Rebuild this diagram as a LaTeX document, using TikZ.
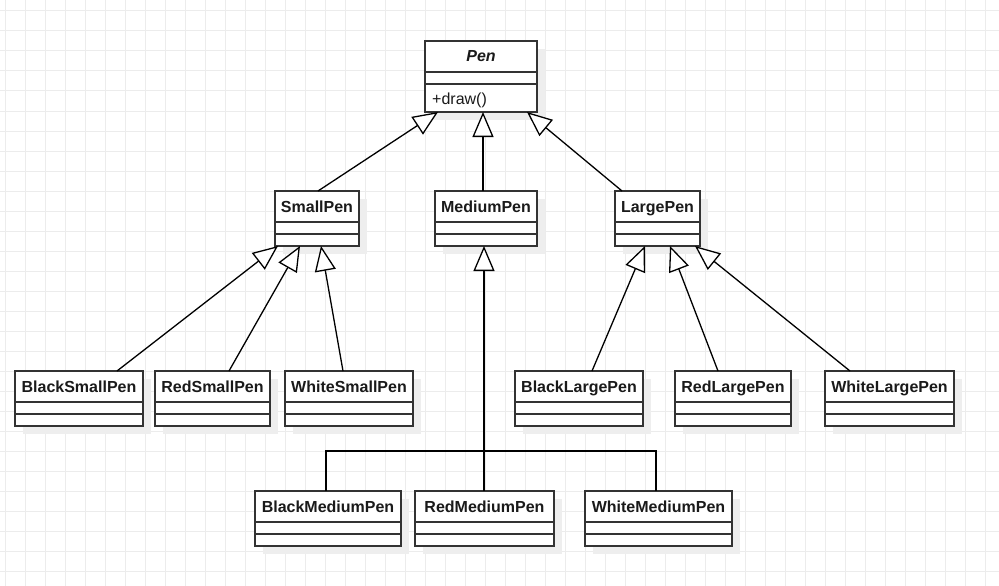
\documentclass[tikz,border=0pt]{standalone}
\usepackage{fontspec}
\setmainfont{Liberation Sans}
\usetikzlibrary{calc,arrows.meta}

\definecolor{gridline}{RGB}{236,236,236}
\definecolor{boxshadow}{RGB}{238,238,238}
\definecolor{boxedge}{RGB}{51,51,51}
\definecolor{inktext}{RGB}{26,26,26}

\tikzset{
  umlbox/.style={rectangle, draw=boxedge, line width=1.5pt, fill=white, inner sep=0pt, outer sep=0pt},
  sepline/.style={draw=boxedge, line width=1.5pt},
  classname/.style={font=\fontsize{16}{19}\selectfont\bfseries, text=inktext, inner sep=0pt, anchor=base},
  member/.style={font=\fontsize{16}{19}\selectfont, text=inktext, inner sep=0pt, anchor=base west},
  inherit/.style={draw=black, line width=1.3pt, -{Triangle[length=25pt,width=21pt,fill=white]}},
  link/.style={draw=black, line width=1.3pt},
  trunk/.style={draw=black, line width=2pt, -{Triangle[length=25pt,width=21pt,fill=white,line width=1.3pt]}},
}

% UML class box: #1 name, #2 left, #3 top, #4 width, #5 height, #6 title
\newcommand{\umlclass}[6]{%
  \fill[boxshadow] (#2+8,#3+8) rectangle (#2+#4+8,#3+#5+8);
  \node[umlbox, minimum width=#4pt, minimum height=#5pt, anchor=north west] (#1) at (#2,#3) {};
  \node[classname] (#1-title) at ($(#1.north)+(0,21)$) {#6};
  \draw[sepline] ($(#1.north west)+(0,31)$) -- ($(#1.north east)+(0,31)$);
  \draw[sepline] ($(#1.north west)+(0,43)$) -- ($(#1.north east)+(0,43)$);
}

\begin{document}
\begin{tikzpicture}[x=1pt,y=-1pt]
  \useasboundingbox (0,0) rectangle (999,586);
  \fill[white] (0,0) rectangle (999,586);

  % background grid
  \foreach \gx in {5,25,...,985} \draw[gridline, line width=1pt] (\gx,0) -- (\gx,586);
  \foreach \gy in {11,31,...,571} \draw[gridline, line width=1pt] (0,\gy) -- (999,\gy);

  % abstract base class
  \umlclass{pen}{425}{41}{112}{71}{\itshape Pen}
  \node[member] (pen-draw) at ($(pen.north west)+(7,63)$) {+draw()};

  % size classes
  \umlclass{smallpen}{275}{191}{84}{55}{SmallPen}
  \umlclass{mediumpen}{435}{191}{102}{55}{MediumPen}
  \umlclass{largepen}{615}{191}{85}{55}{LargePen}

  % colour classes
  \umlclass{blacksmall}{15}{371}{128}{55}{BlackSmallPen}
  \umlclass{redsmall}{155}{371}{115}{55}{RedSmallPen}
  \umlclass{whitesmall}{285}{371}{128}{55}{WhiteSmallPen}
  \umlclass{blacklarge}{515}{371}{128}{55}{BlackLargePen}
  \umlclass{redlarge}{675}{371}{116}{55}{RedLargePen}
  \umlclass{whitelarge}{825}{371}{129}{55}{WhiteLargePen}
  \umlclass{blackmedium}{255}{491}{146}{55}{BlackMediumPen}
  \umlclass{redmedium}{415}{491}{139}{55}{RedMediumPen}
  \umlclass{whitemedium}{585}{491}{147}{55}{WhiteMediumPen}

  % generalisations to Pen
  \draw[inherit] ($(smallpen.north west)+(43,0)$) -- ($(pen.south west)+(13,0)$);
  \draw[inherit] ($(mediumpen.north west)+(48,0)$) -- ($(pen.south west)+(58,0)$);
  \draw[inherit] ($(largepen.north west)+(7,0)$) -- ($(pen.south west)+(102,0)$);

  % generalisations to SmallPen
  \draw[inherit] ($(blacksmall.north west)+(102,0)$) -- ($(smallpen.south west)+(3,0)$);
  \draw[inherit] ($(redsmall.north west)+(74,0)$) -- ($(smallpen.south west)+(25,0)$);
  \draw[inherit] ($(whitesmall.north west)+(58,0)$) -- ($(smallpen.south west)+(46,0)$);

  % generalisations to LargePen
  \draw[inherit] ($(blacklarge.north west)+(77,0)$) -- ($(largepen.south west)+(30,0)$);
  \draw[inherit] ($(redlarge.north west)+(43,0)$) -- ($(largepen.south west)+(55,0)$);
  \draw[inherit] ($(whitelarge.north west)+(25,0)$) -- ($(largepen.south west)+(80,0)$);

  % generalisations to MediumPen, joined into one trunk
  \coordinate (mjoin) at ($(mediumpen.south west)+(49,205)$);
  \draw[link] ($(blackmedium.north west)+(71,0)$) |- (mjoin);
  \draw[link] ($(redmedium.north west)+(69,0)$) -- (mjoin);
  \draw[link] ($(whitemedium.north west)+(71,0)$) |- (mjoin);
  \draw[trunk] (mjoin) -- ($(mediumpen.south west)+(49,0)$);
\end{tikzpicture}
\end{document}
